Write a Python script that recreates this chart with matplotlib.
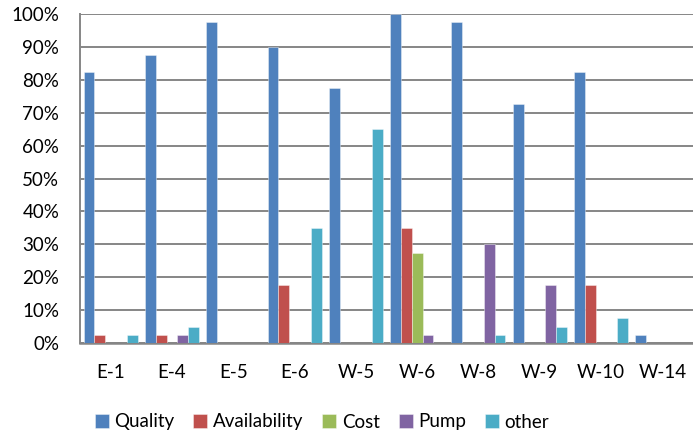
import numpy as np
import matplotlib.pyplot as plt
from matplotlib.ticker import PercentFormatter

plt.rcParams['font.family'] = ['Lato', 'DejaVu Sans']

sites = ['E-1', 'E-4', 'E-5', 'E-6', 'W-5', 'W-6', 'W-8', 'W-9', 'W-10', 'W-14']
series = ['Quality', 'Availability', 'Cost', 'Pump', 'other']
colors = ['#4F81BD', '#C0504D', '#9BBB59', '#8064A2', '#4BACC6']

# share of responses per site, in percent
quality = [82.5, 87.5, 97.5, 90.0, 77.5, 100.0, 97.5, 72.5, 82.5, 2.5]
availability = [2.5, 2.5, 0, 17.5, 0, 35.0, 0, 0, 17.5, 0]
cost = [0, 0, 0, 0, 0, 27.5, 0, 0, 0, 0]
pump = [0, 2.5, 0, 0, 0, 2.5, 30.0, 17.5, 0, 0]
other = [2.5, 5.0, 0, 35.0, 65.0, 0, 2.5, 5.0, 7.5, 0]

values = [quality, availability, cost, pump, other]

fig = plt.figure(figsize=(6.93, 4.34), dpi=100)
ax = fig.add_axes([80/693, 1 - 343/434, 613/693, 329/434])

x = np.arange(len(sites))
w = 0.176
for i in range(len(series)):
    ax.bar(x + (i - 2) * w, values[i], width=w, color=colors[i], label=series[i],
           edgecolor=(1, 1, 1, 0.45), linewidth=0.6, zorder=3)

ax.set_xlim(-0.5, len(sites) - 0.5)
ax.set_ylim(0, 100)
ax.set_yticks(np.arange(0, 101, 10))
ax.yaxis.set_major_formatter(PercentFormatter(decimals=0))
ax.set_xticks(x)
ax.set_xticklabels(sites)
ax.grid(axis='y', color='#868686', linewidth=1.4, zorder=0)
ax.set_axisbelow(True)

for s in ['top', 'right']:
    ax.spines[s].set_visible(False)
ax.spines['left'].set_color('#868686')
ax.spines['left'].set_linewidth(1.4)
ax.spines['bottom'].set_color('#868686')
ax.spines['bottom'].set_linewidth(1.8)

ax.tick_params(axis='y', length=0, pad=15, labelsize=13.5, colors='black')
ax.tick_params(axis='x', length=0, pad=15, labelsize=13.5, colors='black')

fig.legend(loc='center', bbox_to_anchor=(322/693, 1 - 422/434), ncol=5, frameon=False,
           fontsize=13.5, handlelength=0.75, handleheight=0.75, handletextpad=0.3,
           columnspacing=1.0)

fig.savefig('out.png', dpi=100)
